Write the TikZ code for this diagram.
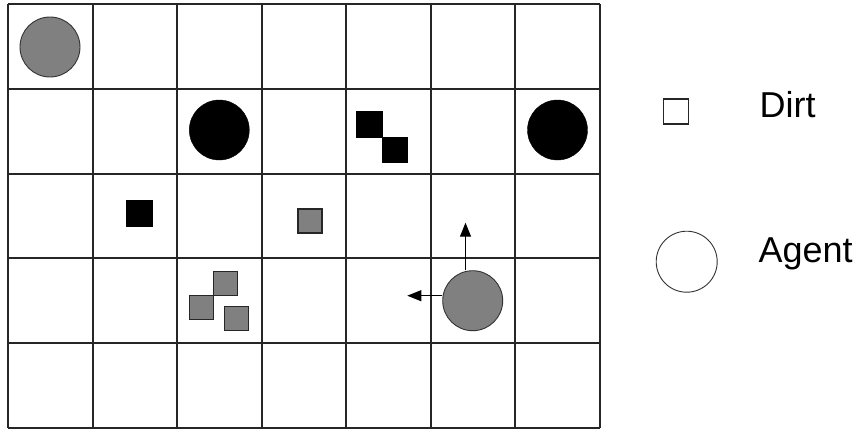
\documentclass[tikz,border=0pt]{standalone}
\usepackage{fontspec}
\setmainfont{Liberation Sans}
\usetikzlibrary{arrows.meta}
\definecolor{agentgray}{RGB}{128,128,128}

\begin{document}
\begin{tikzpicture}[x=1pt, y=-1pt, >={Triangle[length=14pt,width=11pt]},
	gridline/.style={line width=1.9pt, draw=black!85},
	agent/.style={circle, draw=black!80, line width=0.9pt, fill=agentgray, minimum size=60pt, inner sep=0pt},
	obstacle/.style={circle, draw, fill=black, minimum size=60pt, inner sep=0pt},
	dirt/.style={rectangle, draw=black!85, line width=1.2pt, fill=agentgray, minimum size=24pt, inner sep=0pt},
	blackdirt/.style={dirt, draw=black, fill=black, minimum size=25pt},
	legendtext/.style={anchor=base west, font=\fontsize{36}{40}\selectfont}]
	\useasboundingbox (0,0) rectangle (862,429);
	% grid of cells
	\foreach \i in {0,...,7}
		\draw[gridline] (8+\i*84.57,4) -- (8+\i*84.57,428);
	\foreach \j in {0,...,5}
		\draw[gridline] (8,4+\j*84.8) -- (600,4+\j*84.8);
	% obstacles and agents
	\node[agent] (agentA) at (50,47) {};
	\node[obstacle] (obstA) at (219.3,130) {};
	\node[obstacle] (obstB) at (557.5,130) {};
	\node[agent] (agentB) at (472.7,300.7) {};
	% dirt
	\node[blackdirt] (dirtA) at (369.5,124.5) {};
	\node[blackdirt] (dirtB) at (395.2,150.2) {};
	\node[blackdirt] (dirtC) at (139.5,213.5) {};
	\node[dirt] (dirtD) at (310,221) {};
	\node[dirt] (dirtE) at (225.5,283.2) {};
	\node[dirt] (dirtF) at (201.3,307.5) {};
	\node[dirt] (dirtG) at (236.7,318.8) {};
	% moves of the agent
	\coordinate (moveup) at (465.5,222.7);
	\coordinate (moveleft) at (407.3,295.7);
	\draw[->, line width=1.1pt] (agentB.north -| moveup) -- (moveup);
	\draw[->, line width=1.1pt] (agentB.west |- moveleft) -- (moveleft);
	% legend
	\node[dirt, fill=white, minimum size=25pt] (legdirt) at (676.3,111.5) {};
	\node[legendtext] (legdirttext) at (756,117.7) {Dirt};
	\node[agent, fill=white, minimum size=61pt] (legagent) at (686.7,261.7) {};
	\node[legendtext] (legagenttext) at (755,262.3) {Agent};
\end{tikzpicture}
\end{document}
